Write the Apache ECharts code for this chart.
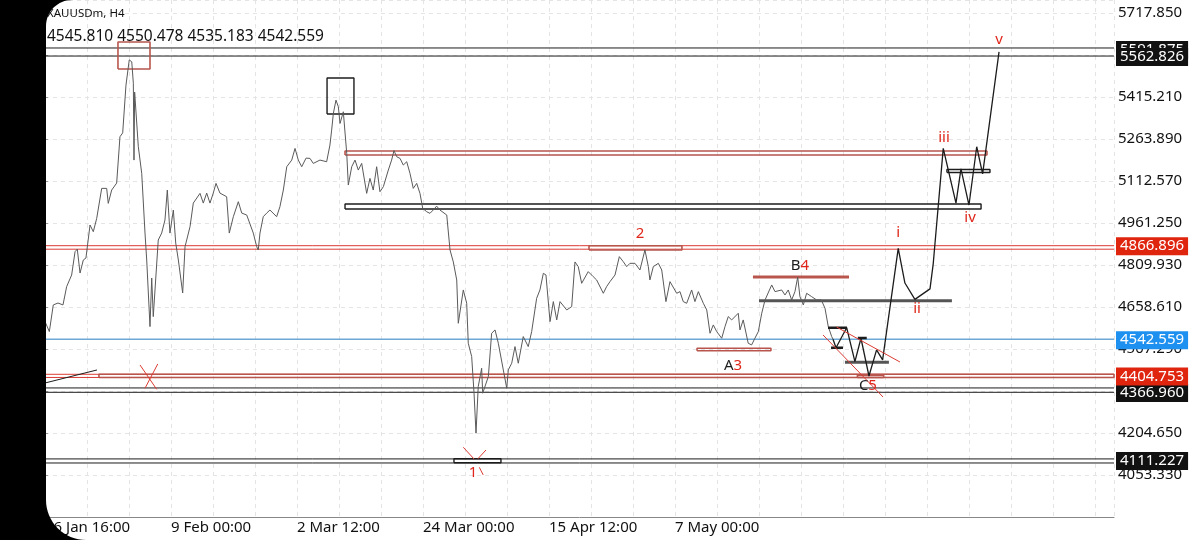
<!DOCTYPE html>
<html><head><meta charset="utf-8">
<script src="https://cdn.jsdelivr.net/npm/echarts@6/dist/echarts.min.js"></script>
<style>html,body{margin:0;padding:0;background:#fff}#c{width:1200px;height:540px}</style>
</head><body><div id="c"></div>
<script>
// ---------------- data ----------------
const symbolName = 'XAUUSDm, H4';
const ohlc = ['4545.810', '4550.478', '4535.183', '4542.559'];
const xTickLabels = ['16 Jan 16:00', '9 Feb 00:00', '2 Mar 12:00', '24 Mar 00:00', '15 Apr 12:00', '7 May 00:00'];
const barsPerLabel = 96;
const xMax = 814.5;
const yTickStart = 3902.01, yTickStep = 151.32, yTop = 5764.7;

// H4 closes: [bar index, price]
const pricePath = [[0,4606],[3.3,4570],[6.3,4666],[9.9,4673],[13.7,4666],[16.5,4732],[20.3,4774],[22.9,4858],[24.6,4867],[26.7,4781],[29.2,4828],[31.2,4835],[34.3,4954],[36.8,4930],[39.4,4978],[43.2,5086],[47.0,5086],[48.2,5032],[50.8,5080],[54.6,5105],[56.4,5224],[57.1,5272],[59.2,5286],[61.7,5458],[64.2,5549],[66.1,5542],[67.3,5465],[67.8,5188],[68.3,5433],[71.1,5236],[73.7,5140],[76.2,4925],[77.5,4828],[80.0,4588],[81.3,4763],[82.5,4624],[86.3,4900],[88.9,4925],[91.4,4972],[93.2,5080],[95.2,4925],[97.8,5008],[99.6,4889],[101.6,4828],[104.9,4709],[106.7,4876],[110.5,4948],[113.0,5033],[118.1,5068],[120.6,5033],[123.2,5069],[125.7,5033],[128.2,5069],[130.3,5104],[133.3,5069],[138.4,5056],[140.4,4925],[143.5,4984],[147.3,5038],[149.9,4997],[153.7,4990],[158.7,4925],[161.3,4876],[162.5,4864],[163.8,4925],[166.3,4984],[168.9,4997],[171.4,5008],[176.5,4984],[179.0,5020],[181.6,5080],[184.2,5164],[188.0,5188],[190.5,5230],[193.0,5188],[195.6,5164],[198.9,5195],[201.9,5194],[204.4,5176],[209.5,5188],[214.6,5182],[217.1,5242],[218.4,5296],[219.7,5356],[221.7,5404],[223.5,5380],[224.8,5320],[227.3,5362],[229.9,5212],[231.1,5098],[233.7,5164],[236.2,5188],[238.7,5152],[241.3,5176],[245.1,5068],[247.6,5122],[250.1,5080],[252.7,5164],[255.2,5074],[257.8,5092],[261.6,5152],[264.1,5188],[265.9,5222],[268.0,5200],[270.5,5194],[273.0,5170],[275.6,5182],[278.1,5140],[280.6,5086],[283.2,5104],[285.7,5068],[287.8,5014],[290.8,5002],[293.3,4996],[295.8,5008],[298.4,5022],[300.9,5008],[306.1,4990],[308.6,4864],[311.1,4821],[313.7,4756],[314.9,4600],[318.7,4720],[321.3,4672],[322.5,4528],[325.1,4480],[326.9,4348],[328.4,4204],[330.1,4372],[332.7,4438],[333.5,4348],[337.8,4408],[340.3,4564],[342.9,4576],[345.4,4528],[349.2,4432],[351.8,4366],[353.0,4432],[355.6,4456],[358.1,4516],[360.6,4456],[364.4,4552],[368.2,4516],[370.8,4570],[374.6,4690],[377.1,4720],[379.7,4780],[381.7,4774],[384.8,4606],[387.3,4678],[389.9,4612],[392.4,4678],[397.5,4648],[401.3,4660],[403.8,4821],[406.3,4804],[408.9,4744],[413.9,4786],[417.7,4768],[420.3,4756],[425.4,4708],[427.9,4732],[430.5,4750],[434.3,4774],[437.6,4840],[440.6,4822],[443.2,4804],[445.7,4816],[449.5,4816],[453.3,4792],[457.1,4864],[459.7,4804],[460.9,4756],[463.5,4804],[467.3,4816],[469.9,4792],[473.1,4678],[476.2,4750],[481.3,4708],[483.8,4714],[486.3,4678],[488.9,4672],[492.7,4720],[495.2,4678],[497.8,4714],[501.6,4672],[504.2,4648],[506.7,4564],[509.2,4594],[511.8,4570],[515.6,4546],[518.1,4588],[520.6,4624],[523.2,4612],[528.2,4636],[529.5,4576],[532.0,4612],[535.8,4528],[538.4,4522],[540.9,4546],[543.5,4570],[546.1,4636],[548.6,4684],[553.7,4738],[556.2,4714],[561.3,4720],[563.8,4702],[566.3,4720],[568.9,4684],[571.4,4714],[573.5,4766],[575.2,4696],[577.8,4666],[580.3,4708],[584.1,4696],[587.9,4684],[591.5,4684],[594.3,4654],[596.8,4588],[599.4,4552],[600.4,4542.559]];

// hand-drawn wave projection
const projectionPath = [[600.4,4542.6],[602.7,4512],[610.8,4584],[617.1,4462],[621.7,4546],[627.8,4410],[633.6,4504],[638.2,4468],[650.1,4870],[655.2,4745],[662.8,4686],[674.3,4724],[676.8,4816],[684.4,5230],[694.1,5033],[697.9,5156],[704.0,5026],[709.9,5236],[714.4,5138],[726.9,5578]];

// horizontal levels
const blackLevels = [5591.8, 5562.826, 4366.96, 4351.3, 4111.227, 4096.6];
const redLevels = [4879.5, 4866.896, 4416.2, 4404.753];
const blueLevels = [4542.559];
// price tags on the axis
const tagValues = [5591.875, 5562.826, 4366.960, 4111.227, 4542.559, 4866.896, 4404.753];
const tagKinds = ['black', 'black', 'black', 'black', 'blue', 'red', 'red'];

// boxes: [bar0, bar1, price0, price1]
const redBoxes = [[55.6,80.0,5516.1,5613.4],[228.6,717.7,5206.3,5220.7],[414.5,485.3,4864.0,4879.5],[496.8,553.1,4501.2,4509.8],[41.1,814.5,4404.753,4416.2],[619,639,4404.753,4413]];
const blackBoxes = [[214.9,235.4,5354.0,5483.7],[228.6,713.2,5011.7,5029.7],[311.6,347.4,4097.7,4112.1],[687.2,720.0,5143.2,5154.0]];
// horizontal strokes: [bar0, bar1, price]
const redBars = [[539.4,612.6,4766.7]];
const grayBars = [[544.0,691.0,4681.3],[609.5,643.0,4459.4]];
const blackBars = [[596.6,611.1,4584.1],[598.9,608.0,4512.0],[619.3,626.1,4547.0]];
// free strokes
const redStrokes = [
  [[592.8,4557.8],[638.5,4334.4]], [[603.1,4586.6],[651.4,4460.5]],
  [[72.4,4449.7],[85.1,4362.1]], [[85.9,4453.3],[76.2,4365.7]],
  [[318.7,4153.2],[326.9,4111.0]], [[336.0,4143.4],[329.9,4112.1]], [[330.9,4081.1],[333.9,4053.4]]
];
const blackStrokes = [[[0,4384.8],[39.6,4431.7]]];

// annotations
const annTexts = ['2', 'A3', 'B4', 'C5', '1', 'i', 'ii', 'iii', 'iv', 'v'];
const annBars = [453.3, 524.2, 575.2, 627.0, 326.1, 650.1, 664.4, 685.0, 704.8, 726.9];
const annValues = [4921.6, 4446.1, 4806.4, 4374.0, 4060.6, 4925.2, 4651.4, 5267.5, 4979.3, 5620.6];

// ---------------- chart ----------------
const FONT = 'Noto Sans';
const RED = '#dc3b33', BRICK = '#b8564d', BLUE = '#6ea8d4', INK = '#1c1c1c', GRAY = '#555555';
const chart = echarts.init(document.getElementById('c'));

function seg(data, color, width, z) {
  return { type: 'line', data: data, symbol: 'none', showSymbol: false, silent: true,
    animation: false, lineStyle: { color: color, width: width }, z: z || 3, clip: true };
}
function rectPath(b) { return [[b[0], b[2]], [b[1], b[2]], [b[1], b[3]], [b[0], b[3]], [b[0], b[2]]]; }
function levelPath(v) { return [[0, v], [xMax, v]]; }

const tagBg = { black: '#111111', blue: '#1e90f0', red: '#e0250f' };
const tagOffsets = { '5591.875': [0, 2], '5562.826': [0, 1], '4366.960': [0, 5], '4111.227': [0, 2], '4866.896': [0, -3], '4542.559': [0, 1], '4404.753': [0, -1] };

const series = [];
blackLevels.forEach(v => series.push(seg(levelPath(v), INK, 1, 2)));
redLevels.forEach(v => series.push(seg(levelPath(v), RED, 1, 2)));
blueLevels.forEach(v => series.push(seg(levelPath(v), BLUE, 1.6, 2)));

series.push({
  type: 'line', data: pricePath, symbol: 'none', showSymbol: false, silent: true, animation: false,
  lineStyle: { color: '#5a5a5a', width: 1 }, z: 5
});
series.push(seg(projectionPath, INK, 1.3, 6));
redBoxes.forEach(b => series.push(seg(rectPath(b), BRICK, 1.6, 4)));
blackBoxes.forEach(b => series.push(seg(rectPath(b), INK, 1.4, 4)));
redBars.forEach(b => series.push(seg([[b[0], b[2]], [b[1], b[2]]], BRICK, 3, 4)));
grayBars.forEach(b => series.push(seg([[b[0], b[2]], [b[1], b[2]]], GRAY, 3, 4)));
blackBars.forEach(b => series.push(seg([[b[0], b[2]], [b[1], b[2]]], INK, 2.5, 6)));
redStrokes.forEach(s => series.push(seg(s, RED, 1, 6)));
blackStrokes.forEach(s => series.push(seg(s, INK, 1, 6)));

// annotations
series.push({
  type: 'scatter', symbolSize: 0, silent: true, animation: false, z: 8,
  itemStyle: { opacity: 1 },
  data: annTexts.map((t, i) => ({ value: [annBars[i], annValues[i]], name: t })),
  label: {
    show: true, position: 'inside', fontFamily: FONT, fontSize: 15, opacity: 1,
    formatter: p => /^[A-C]/.test(p.name) ? '{k|' + p.name[0] + '}{r|' + p.name.slice(1) + '}' : '{r|' + p.name + '}',
    rich: { k: { color: INK, fontSize: 15, fontFamily: FONT }, r: { color: '#e0261a', fontSize: 15, fontFamily: FONT } }
  }
});

// axis price tags
series.push({
  type: 'scatter', symbolSize: 0, silent: true, animation: false, z: 20, clip: false,
  itemStyle: { opacity: 1 },
  data: tagValues.map((v, i) => {
    const key = v.toFixed(3);
    return {
      value: [xMax, v], name: key,
      label: { backgroundColor: tagBg[tagKinds[i]], offset: tagOffsets[key] || [0, 0] }
    };
  }),
  label: {
    show: true, position: 'right', distance: 2, formatter: p => p.name, opacity: 1,
    color: '#fff', padding: [2, 4, 1, 4], fontSize: 15, fontFamily: FONT
  }
});

// phone bezel corners (decoration)
function cornerTop(r) {
  const pts = [[46, 0]];
  for (let i = 0; i <= 16; i++) { const a = Math.PI + (Math.PI / 2) * i / 16; pts.push([46 + r + r * Math.cos(a), r + r * Math.sin(a)]); }
  return pts;
}
function cornerBottom(r) {
  const pts = [[46, 540]];
  for (let i = 0; i <= 16; i++) { const a = Math.PI / 2 + (Math.PI / 2) * i / 16; pts.push([46 + r + r * Math.cos(a), 540 - r + r * Math.sin(a)]); }
  return pts;
}

chart.setOption({
  animation: false,
  backgroundColor: '#ffffff',
  title: [
    { text: symbolName, left: 47, top: 8, padding: 0, textStyle: { fontSize: 11.5, fontWeight: 'normal', color: '#111', fontFamily: FONT } },
    { text: ohlc.join(' '), left: 47, top: 29, padding: 0, textStyle: { fontSize: 15.5, fontWeight: 'normal', color: '#111', fontFamily: FONT } }
  ],
  grid: { left: 45, right: 86, top: 0, bottom: 23 },
  xAxis: {
    type: 'value', min: 0, max: xMax, interval: 32,
    axisLine: { show: true, lineStyle: { color: '#888', width: 1 } },
    axisTick: { show: false },
    splitLine: { show: true, lineStyle: { color: '#e4e4e4', type: [4, 4], width: 1 } },
    axisLabel: {
      align: 'left', margin: 3, fontSize: 15, color: '#111', fontFamily: FONT, showMaxLabel: false,
      formatter: v => { const k = Math.round(v / barsPerLabel); return (Math.abs(v - k * barsPerLabel) < 1e-6 && xTickLabels[k]) ? xTickLabels[k] : ''; }
    }
  },
  yAxis: {
    type: 'value', position: 'right', min: yTickStart, max: yTop, interval: yTickStep,
    axisLine: { show: true, lineStyle: { color: '#888', width: 1 } },
    axisTick: { show: true, length: 3, lineStyle: { color: '#999' } },
    splitLine: { show: true, lineStyle: { color: '#e4e4e4', type: [4, 4], width: 1 } },
    axisLabel: {
      margin: 4, fontSize: 15, color: '#111', fontFamily: FONT, showMinLabel: false, showMaxLabel: false,
      formatter: v => (v < yTickStart + 10 || v > yTop - 20) ? '' : v.toFixed(3)
    }
  },
  graphic: [
    { type: 'rect', z: 100, silent: true, shape: { x: 0, y: 0, width: 46, height: 540 }, style: { fill: '#000' } },
    { type: 'polygon', z: 100, silent: true, shape: { points: cornerTop(26) }, style: { fill: '#000' } },
    { type: 'polygon', z: 100, silent: true, shape: { points: cornerBottom(40) }, style: { fill: '#000' } }
  ],
  series: series
});
</script>
</body></html>
